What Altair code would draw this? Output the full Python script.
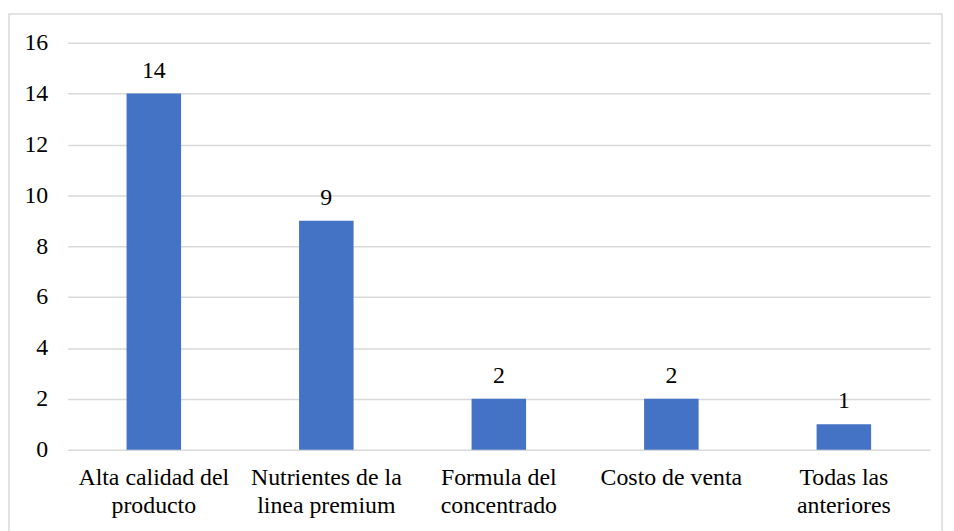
import altair as alt
import pandas as pd

categories = ["Alta calidad del|producto", "Nutrientes de la|linea premium",
              "Formula del|concentrado", "Costo de venta", "Todas las|anteriores"]
values = [14, 9, 2, 2, 1]
y_ticks = [0, 2, 4, 6, 8, 10, 12, 14, 16]

df = pd.DataFrame({"cat": categories, "val": values})

FONT = "Liberation Serif"
FS = 24
W, H = 869, 410

x = alt.X("cat:N", sort=categories, title=None,
          scale=alt.Scale(paddingInner=0.684, paddingOuter=0.342),
          axis=alt.Axis(labelExpr="split(datum.label, '|')", labelAngle=0,
                        labelFontSize=FS, labelFont=FONT, labelColor="#000000",
                        labelLineHeight=28, labelPadding=16, ticks=False,
                        domain=False, grid=False))
y = alt.Y("val:Q", title=None,
          scale=alt.Scale(domain=[0, 16]),
          axis=alt.Axis(values=y_ticks, labelFontSize=FS, labelFont=FONT,
                        labelColor="#000000", labelPadding=20, ticks=False,
                        domain=False, grid=True, gridColor="#d9d9d9",
                        gridWidth=1.5))

bars = alt.Chart(df).mark_bar(color="#4472C4").encode(x=x, y=y)
labels = alt.Chart(df).mark_text(baseline="alphabetic", dy=-16, fontSize=FS,
                                 font=FONT, color="#000000").encode(
    x=alt.X("cat:N", sort=categories), y="val:Q", text="val:Q")

border = alt.Chart(pd.DataFrame({"a": [0]})).mark_rect(
    fill=None, stroke="#d9d9d9", strokeWidth=1.5).encode(
    x=alt.value(-59), x2=alt.value(881), y=alt.value(-29), y2=alt.value(500))

chart = alt.layer(border, bars, labels).properties(
    width=W, height=H,
    autosize=alt.AutoSizeParams(type="none"),
    padding={"left": 60, "top": 33, "right": 16, "bottom": 80},
).configure_view(stroke=None)

chart.save("out.html", embed_options={"renderer": "svg", "actions": False})
